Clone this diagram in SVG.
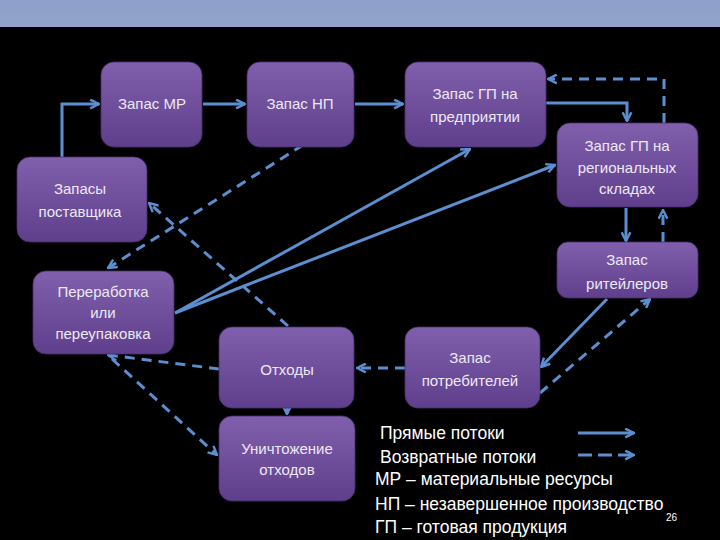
<svg xmlns="http://www.w3.org/2000/svg" width="720" height="540" viewBox="0 0 720 540">
<defs>
<linearGradient id="bg" x1="0" y1="0" x2="0" y2="1">
<stop offset="0" stop-color="#8d9fca"/>
<stop offset="1" stop-color="#93a3cb"/>
</linearGradient>
<linearGradient id="box" x1="0" y1="0" x2="0" y2="1">
<stop offset="0" stop-color="#8060ad"/>
<stop offset="1" stop-color="#5f3f8b"/>
</linearGradient>
<marker id="ah" viewBox="0 0 10 10" refX="9" refY="5" markerWidth="11" markerHeight="11" markerUnits="userSpaceOnUse" orient="auto">
<path d="M1,1 L9,5 L1,9" fill="none" stroke="#5b8fd0" stroke-width="2.2"/>
</marker>
<style>
.nd rect{fill:url(#box);stroke:#4a2f6e;stroke-width:0.8}
.nd text{font-family:"Liberation Sans",Arial,sans-serif;font-size:15px;fill:#ece8f4;text-anchor:middle}
.c{fill:none;stroke:#5b8fd0;stroke-width:3;marker-end:url(#ah)}
.d{stroke-dasharray:10 7}
.lg{font-family:"Liberation Sans",Arial,sans-serif;font-size:17.5px;fill:#ffffff}
</style>
</defs>
<rect x="0" y="0" width="720" height="540" fill="#000"/>
<rect x="0" y="0" width="720" height="27" fill="url(#bg)"/>

<g id="connectors">
<path class="c" d="M62,157 V104 H99"/>
<path class="c" d="M203,104 H245"/>
<path class="c" d="M355,104 H403"/>
<path class="c" d="M546,103 H627 V121"/>
<path class="c d" d="M664,123 V79 H548"/>
<path class="c" d="M626,208 V241"/>
<path class="c d" d="M663,242 V210"/>
<path class="c" d="M607,299 L541,367"/>
<path class="c d" d="M540,393 L650,299"/>
<path class="c d" d="M405,368 H357"/>
<path class="c" d="M287,400 V414"/>
<path class="c d" d="M219,369 L108,355"/>
<path class="c d" d="M112,359 L217,455"/>
<path class="c d" d="M288,326 L149,203"/>
<path class="c d" d="M303,145 L108,268"/>
<path class="c" d="M175,313 L470,149"/>
<path class="c" d="M175,313 L555,165"/>
</g>

<g id="n-mr" class="nd"><rect x="101" y="62" width="101" height="85" rx="13"/><text x="152" y="109">Запас МР</text></g>
<g id="n-np" class="nd"><rect x="247" y="62" width="107" height="85" rx="13"/><text x="300" y="109">Запас НП</text></g>
<g id="n-gp" class="nd"><rect x="405" y="62" width="141" height="85" rx="13"/><text x="475" y="99">Запас ГП на</text><text x="475" y="122">предприятии</text></g>
<g id="n-reg" class="nd"><rect x="557" y="123" width="141" height="84" rx="13"/><text x="627" y="151">Запас ГП на</text><text x="627" y="173">региональных</text><text x="627" y="194">складах</text></g>
<g id="n-sup" class="nd"><rect x="17" y="157" width="130" height="85" rx="13"/><text x="80" y="194">Запасы</text><text x="80" y="217">поставщика</text></g>
<g id="n-ret" class="nd"><rect x="557" y="242" width="141" height="56" rx="11"/><text x="627" y="265">Запас</text><text x="627" y="289">ритейлеров</text></g>
<g id="n-rec" class="nd"><rect x="33" y="271" width="141" height="83" rx="13"/><text x="103" y="297">Переработка</text><text x="103" y="318">или</text><text x="103" y="339">переупаковка</text></g>
<g id="n-waste" class="nd"><rect x="219" y="327" width="135" height="81" rx="13"/><text x="287" y="375">Отходы</text></g>
<g id="n-cons" class="nd"><rect x="405" y="327" width="135" height="81" rx="13"/><text x="470" y="363">Запас</text><text x="470" y="386">потребителей</text></g>
<g id="n-dest" class="nd"><rect x="219" y="416" width="136" height="85" rx="13"/><text x="287" y="454">Уничтожение</text><text x="287" y="475">отходов</text></g>

<g id="legend">
<text class="lg" x="380" y="439">Прямые потоки</text>
<text class="lg" x="380" y="463">Возвратные потоки</text>
<text class="lg" x="375" y="485">МР – материальные ресурсы</text>
<text class="lg" x="375" y="510">НП – незавершенное производство</text>
<text class="lg" x="375" y="533">ГП – готовая продукция</text>
<text x="666" y="521" font-family="Liberation Sans,Arial,sans-serif" font-size="10" fill="#ffffff">26</text>
<path class="c" d="M578,433 H634"/>
<path class="c" d="M578,455 H634" stroke-dasharray="14 6"/>
</g>
</svg>
